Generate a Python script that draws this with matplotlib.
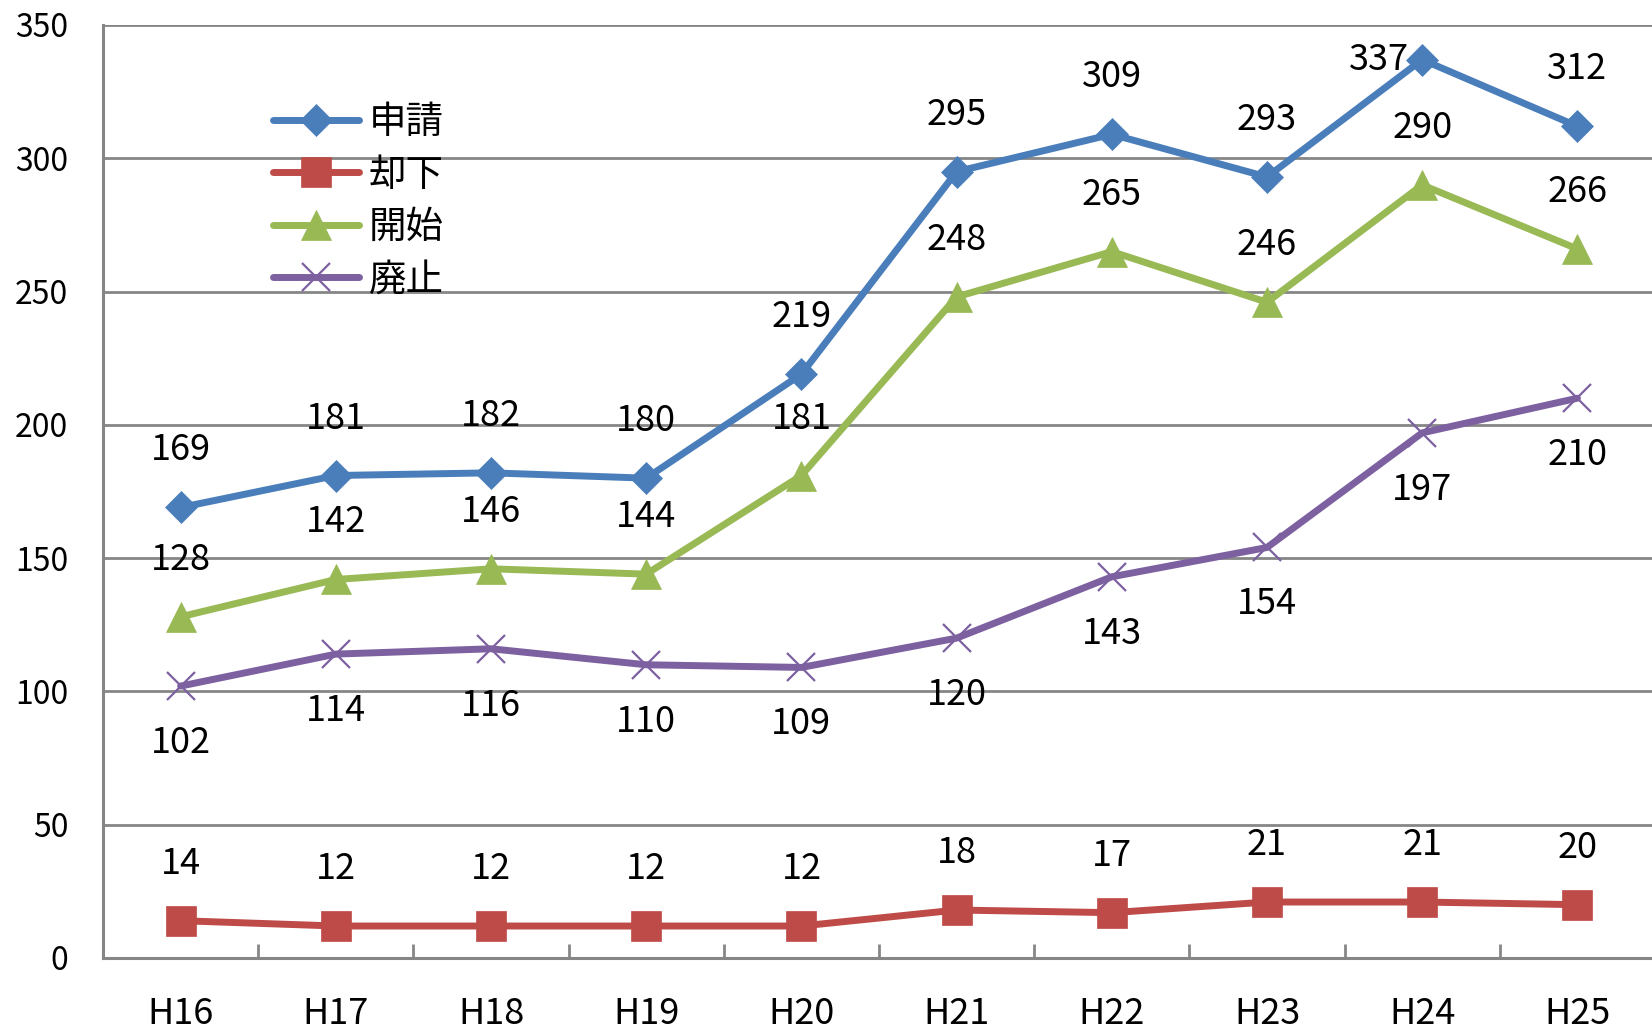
import matplotlib
matplotlib.use("Agg")
import matplotlib.pyplot as plt
import numpy as np

plt.rcParams['font.family'] = ['Noto Sans CJK JP', 'DejaVu Sans']

categories = ["H16", "H17", "H18", "H19", "H20", "H21", "H22", "H23", "H24", "H25"]
series_names = ["申請", "却下", "開始", "廃止"]
shinsei = [169, 181, 182, 180, 219, 295, 309, 293, 337, 312]
kyakka = [14, 12, 12, 12, 12, 18, 17, 21, 21, 20]
kaishi = [128, 142, 146, 144, 181, 248, 265, 246, 290, 266]
haishi = [102, 114, 116, 110, 109, 120, 143, 154, 197, 210]
yticks = [0, 50, 100, 150, 200, 250, 300, 350]

colors = ["#4A7EBB", "#BE4B48", "#98B954", "#7D60A0"]
markers = ["D", "s", "^", "x"]
msizes = [15.8, 22, 22, 20]
label_pos = ["above", "above", "above", "below"]

fig = plt.figure(figsize=(16.52, 10.31), dpi=100)
ax = fig.add_axes([103/1652, 73/1031, 1552/1652, 933/1031])

x = np.arange(len(categories))
data = [shinsei, kyakka, kaishi, haishi]
for name, vals, c, m, ms, pos in zip(series_names, data, colors, markers, msizes, label_pos):
    ax.plot(x, vals, color=c, lw=5, marker=m, markersize=ms,
            markerfacecolor=c, markeredgecolor=c,
            markeredgewidth=(1.6 if m == 'x' else 0.5),
            solid_capstyle='round', label=name, zorder=3, clip_on=False)
    for xi, v in zip(x, vals):
        if name == "申請" and v == 337:
            off = (-43, 0)
        elif pos == "above":
            off = (0, 57)
        else:
            off = (0, -57)
        ax.annotate(str(v), (xi, v), xytext=off, textcoords='offset pixels',
                    ha='center', va='center', fontsize=26, color='black', zorder=4)

ax.set_xlim(-0.5, len(categories) - 0.5)
ax.set_ylim(0, 350)
ax.set_yticks(yticks)
ax.set_yticklabels([str(t) for t in yticks], fontsize=23)
ax.set_xticks(x)
ax.set_xticklabels(categories, fontsize=26)
ax.set_xticks(np.arange(0.5, len(categories) - 1, 1.0), minor=True)
ax.tick_params(axis='y', length=0, pad=25)
ax.tick_params(axis='x', which='major', length=0, pad=27)
ax.tick_params(axis='x', which='minor', direction='in', length=10, width=2, color='#868686')

ax.grid(axis='y', color='#868686', lw=2, zorder=1)
ax.set_axisbelow(True)
for s in ['top', 'right']:
    ax.spines[s].set_visible(False)
for s in ['left', 'bottom']:
    ax.spines[s].set_color('#868686')
    ax.spines[s].set_linewidth(2.2)

leg = ax.legend(loc='upper left', bbox_to_anchor=(273/1652, 1 - 103/1031),
                bbox_transform=fig.transFigure, frameon=False,
                fontsize=27, handlelength=2.3, handletextpad=0.25,
                labelspacing=0.36, borderpad=0, borderaxespad=0)

fig.savefig("out.png", dpi=100)
